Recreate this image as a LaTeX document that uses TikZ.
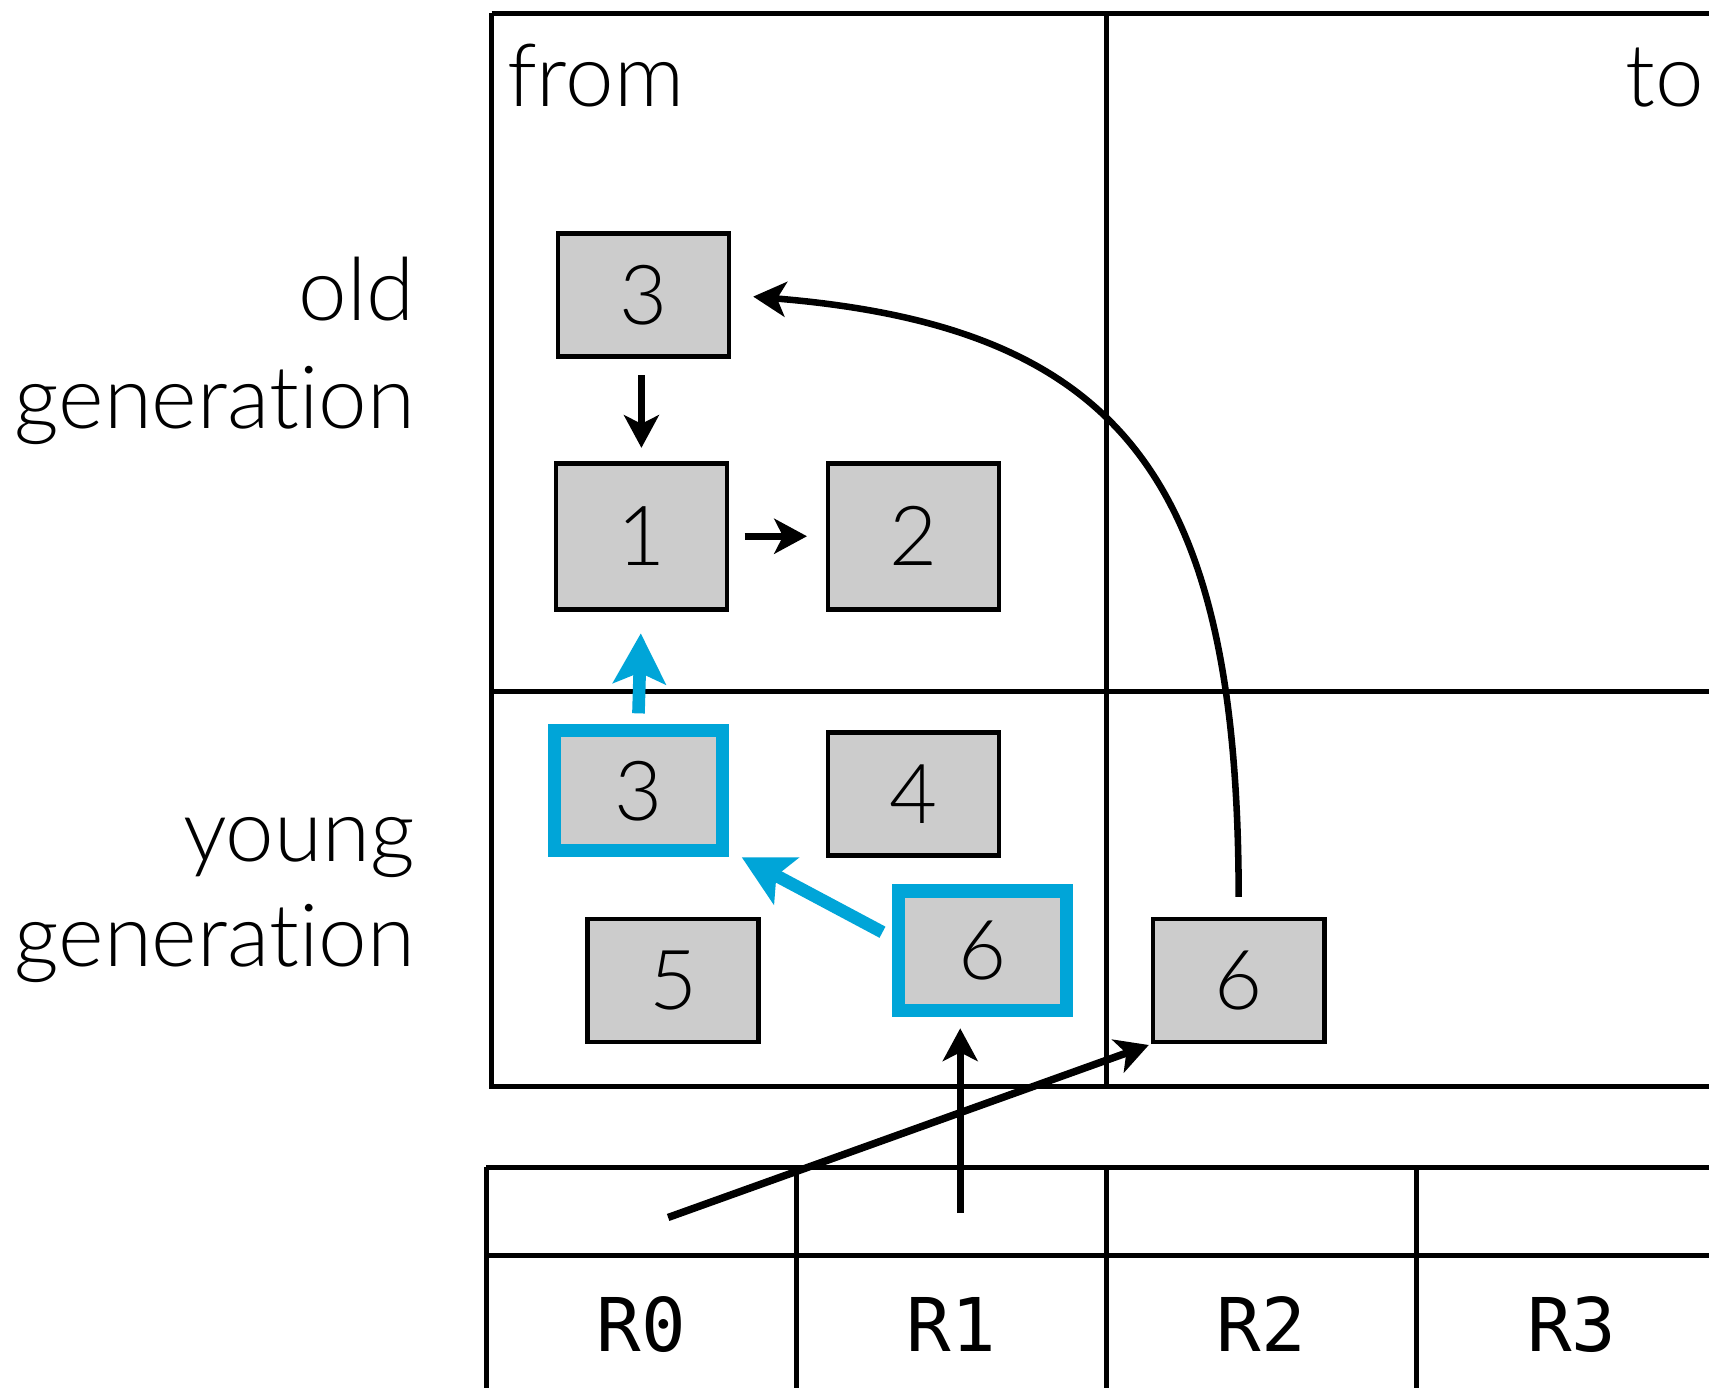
\documentclass[tikz,border=0pt]{standalone}
\usepackage{fontspec}
\setmainfont{Lato}[UprightFont={* Light},Ligatures={NoCommon}]
\newfontfamily\regfont{DejaVu Sans Mono}
\usetikzlibrary{arrows.meta}
\definecolor{boxgray}{HTML}{CCCCCC}
\definecolor{gcblue}{RGB}{0,165,216}
\begin{document}
\begin{tikzpicture}[x=0.5pt,y=-0.5pt,
  frame/.style={line width=2.3pt},
  tline/.style={line width=2.3pt},
  tvline/.style={line width=2.3pt},
  lbl/.style={inner sep=0pt, font=\fontsize{40}{40}\selectfont},
  reglbl/.style={inner sep=0pt, anchor=base, font=\regfont\fontsize{34}{34}\selectfont},
  obj/.style={draw, line width=2.1pt, fill=boxgray, minimum width=78.5pt, minimum height=56.5pt, inner sep=0pt, font=\fontsize{38}{38}\selectfont},
  tallobj/.style={minimum height=67pt},
  live/.style={draw=gcblue, line width=6pt, minimum width=77pt, minimum height=55pt},
  ptr/.style={line width=3.4pt, -{Stealth[length=15pt, width=16pt, inset=4pt]}},
  bptr/.style={draw=gcblue, line width=5.8pt, -{Stealth[length=23pt, width=24pt, inset=5pt, fill=gcblue]}},
]
\useasboundingbox (0,0) rectangle (1568,1273);
\fill[white] (0,0) rectangle (1568,1273);

% heap frame
\draw[frame] (451,12) -- (1620,12);
\draw[frame] (451,12) -- (451,997) -- (1620,997);
\draw[frame] (1015,12) -- (1015,997);
\draw[frame] (451,634) -- (1620,634);

\node[lbl, anchor=base west] (from) at (465,98) {from};
\node[lbl, anchor=base east] (to) at (1564,98) {to};

\node[lbl, anchor=base east] (old) at (381,294) {old};
\node[lbl, anchor=base east] (oldgen) at (381,393) {generation};
\node[lbl, anchor=base east] (young) at (381,790) {young};
\node[lbl, anchor=base east] (younggen) at (381,887) {generation};

% register table
\draw[tline] (446,1071) -- (1620,1071);
\draw[tline] (446,1152) -- (1620,1152);
\foreach \xx in {446,731,1015,1300} \draw[tvline] (\xx,1071) -- (\xx,1300);
\node[reglbl] (r0) at (588.5,1240) {R0};
\node[reglbl] (r1) at (873,1240) {R1};
\node[reglbl] (r2) at (1157.5,1240) {R2};
\node[reglbl] (r3) at (1442,1240) {R3};

% objects
\node[obj] (o3) at (590.5,270.5) {3};
\node[obj, tallobj] (o1) at (588.5,492) {1};
\node[obj, tallobj] (o2) at (838,492) {2};
\node[obj, live] (y3) at (585.5,725.5) {3};
\node[obj] (y4) at (838,728.5) {4};
\node[obj] (y5) at (617.5,899.5) {5};
\node[obj, live] (y6) at (901.5,872.5) {6};
\node[obj] (t6) at (1136.5,899.5) {6};

\coordinate (r0src) at (613,1117);
\coordinate (r1src) at (881,1113);

% pointers
\draw[ptr, shorten <=7.5pt, shorten >=6pt] (o3.south -| o1) -- (o1.north);
\draw[ptr, shorten <=7pt, shorten >=8.5pt] (o1.east) -- (o2.west);
\draw[bptr, shorten <=5pt, shorten >=10pt] (y3.north) -- (o1.south);
\draw[bptr, shorten <=5pt] ([yshift=6.25pt]y6.west) -- ([xshift=6pt]y3.south east);
\draw[ptr, line width=3pt, shorten <=9pt, shorten >=10pt] (t6.north) .. controls (1136,440) and (1030,300) .. (o3.east);
\draw[ptr, shorten >=5pt] (r1src) -- (r1src |- y6.south);
\draw[ptr, shorten >=1pt] (r0src) -- (t6.south west);
\end{tikzpicture}
\end{document}
